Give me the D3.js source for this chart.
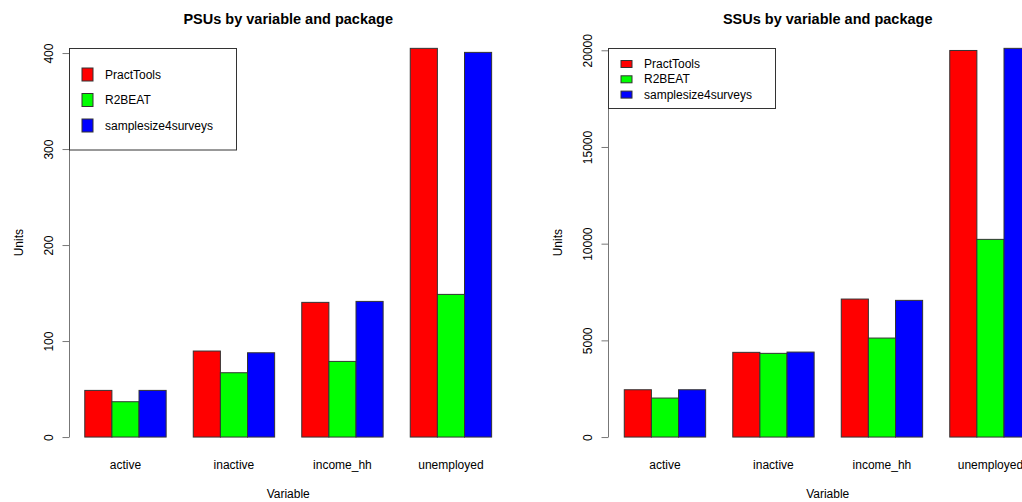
<!DOCTYPE html>
<html>
<head>
<meta charset="utf-8">
<script src="https://cdn.jsdelivr.net/npm/d3@7"></script>
<style>
  html, body { margin: 0; padding: 0; background: #fff; }
  svg { display: block; font-family: "Liberation Sans", Arial, sans-serif; }
</style>
</head>
<body>
<svg id="chart" width="1022" height="502"></svg>
<script>
// ---- data ----
const categories = ["active", "inactive", "income_hh", "unemployed"];
const packages = ["PractTools", "R2BEAT", "samplesize4surveys"];
const colors = ["#ff0000", "#00ff00", "#0000ff"];

const psuPractTools = [48.6, 89.6, 140.3, 404.9];
const psuR2BEAT = [36.8, 67.0, 78.8, 148.6];
const psuSamplesize4surveys = [48.6, 87.8, 141.3, 400.7];

const ssuPractTools = [2446, 4380, 7136, 19990];
const ssuR2BEAT = [2017, 4328, 5119, 10222];
const ssuSamplesize4surveys = [2446, 4395, 7068, 20100];

const psuTicks = [0, 100, 200, 300, 400];
const ssuTicks = [0, 5000, 10000, 15000, 20000];

const titles = ["PSUs by variable and package", "SSUs by variable and package"];
const xLabel = "Variable";
const yLabel = "Units";

// ---- drawing ----
const svg = d3.select("#chart");

function panel(opts) {
  const { left, right, top, bottom, series, ticks, title, legend } = opts;
  const g = svg.append("g");
  const u = (right - left) / 16.2;           // R barplot unit
  const x0 = d3.scaleBand().domain(categories)
    .range([left + 0.6 * u, right - 0.6 * u])
    .paddingInner(0.25).paddingOuter(0);
  const x1 = d3.scaleBand().domain(packages).range([0, x0.bandwidth()]);
  const maxV = d3.max(series.flat());
  const y = d3.scaleLinear().domain([-0.04 * maxV, 1.04 * maxV]).range([bottom, top]);

  // bars
  series.forEach((vals, si) => {
    g.selectAll(null).data(vals).enter().append("rect")
      .attr("x", (d, i) => x0(categories[i]) + x1(packages[si]))
      .attr("y", d => y(d))
      .attr("width", x1.bandwidth())
      .attr("height", d => y(0) - y(d))
      .attr("fill", colors[si])
      .attr("stroke", "#333")
      .attr("stroke-width", 1);
  });

  // y axis
  const axisX = Math.round(left) + 0.5;
  const yAxis = d3.axisLeft(y).tickValues(ticks).tickSize(7).tickPadding(0).tickFormat(d3.format("d"));
  const ag = g.append("g").attr("transform", `translate(${axisX},0)`).call(yAxis);
  ag.select(".domain").attr("d", `M0,${y(ticks[0])}V${y(ticks[ticks.length - 1])}`).attr("stroke", "#777");
  ag.selectAll(".tick line").attr("stroke", "#777");
  ag.selectAll(".tick text")
    .attr("x", 0).attr("dy", null)
    .attr("transform", "translate(-21,0) rotate(-90)")
    .attr("text-anchor", "middle")
    .attr("dominant-baseline", "central")
    .attr("font-size", 12).attr("fill", "#000")
    .attr("font-family", "Liberation Sans, Arial, sans-serif");

  // category labels
  g.selectAll(null).data(categories).enter().append("text")
    .attr("x", d => x0(d) + x0.bandwidth() / 2)
    .attr("y", 464.5)
    .attr("text-anchor", "middle").attr("dominant-baseline", "central")
    .attr("font-size", 12)
    .text(d => d);

  // axis titles
  g.append("text")
    .attr("x", (left + right) / 2).attr("y", 493.5)
    .attr("text-anchor", "middle").attr("dominant-baseline", "central")
    .attr("font-size", 12).text(xLabel);
  g.append("text")
    .attr("transform", `translate(${left - 50},${(top + bottom) / 2}) rotate(-90)`)
    .attr("text-anchor", "middle").attr("dominant-baseline", "central")
    .attr("font-size", 12).text(yLabel);

  // title
  g.append("text")
    .attr("x", (left + right) / 2).attr("y", 19)
    .attr("text-anchor", "middle").attr("dominant-baseline", "central")
    .attr("font-size", 14.5).attr("font-weight", "bold").text(title);

  // legend
  const lg = g.append("g");
  lg.append("rect")
    .attr("x", axisX).attr("y", legend.top)
    .attr("width", legend.w).attr("height", legend.h)
    .attr("fill", "#fff").attr("stroke", "#333").attr("stroke-width", 1);
  packages.forEach((p, i) => {
    const cy = legend.firstY + i * legend.step;
    lg.append("rect")
      .attr("x", axisX + legend.swX).attr("y", cy - legend.swH / 2)
      .attr("width", legend.swW).attr("height", legend.swH)
      .attr("fill", colors[i]).attr("stroke", "#333").attr("stroke-width", 1);
    lg.append("text")
      .attr("x", axisX + legend.txX).attr("y", cy)
      .attr("dominant-baseline", "central")
      .attr("font-size", 12).text(p);
  });
}

panel({
  left: 68.5, right: 507.9, top: 32.8, bottom: 452.6,
  series: [psuPractTools, psuR2BEAT, psuSamplesize4surveys],
  ticks: psuTicks, title: titles[0],
  legend: { top: 48.5, w: 167, h: 101.5, swX: 12.5, swW: 11, swH: 13, txX: 35.5, firstY: 74.5, step: 25.5 }
});

panel({
  left: 608, right: 1047.4, top: 32.8, bottom: 452.6,
  series: [ssuPractTools, ssuR2BEAT, ssuSamplesize4surveys],
  ticks: ssuTicks, title: titles[1],
  legend: { top: 48.5, w: 167, h: 60, swX: 12.5, swW: 11, swH: 7, txX: 35.5, firstY: 64, step: 15.3 }
});
</script>
</body>
</html>
